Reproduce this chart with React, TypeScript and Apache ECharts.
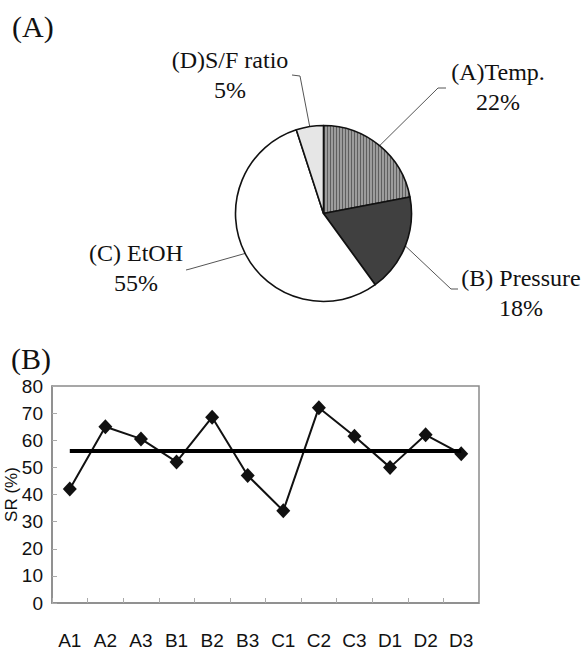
import React, { useEffect, useRef } from "react";
import * as echarts from "echarts";

// ---- Data ----
const pieNames = ["(A)Temp.", "(B) Pressure", "(C) EtOH", "(D)S/F ratio"];
const pieValues = [22, 18, 55, 5];

const categories = ["A1", "A2", "A3", "B1", "B2", "B3", "C1", "C2", "C3", "D1", "D2", "D3"];
const srValues = [42, 65, 60.5, 52, 68.5, 47, 34, 72, 61.5, 50, 62, 55];
const meanSR = 56;

const yMin = 0;
const yMax = 80;
const yInterval = 10;

// ---- Layout / style ----
const pieCenter = [323.5, 213.5];
const pieRadius = 88;
// label text centers and elbow points of leader lines
const labelPlacement = [
  { tx: 498, ty: 87, elbow: [[438, 88], [446, 88]] },
  { tx: 521, ty: 293, elbow: [[451, 289], [458, 289]] },
  { tx: 136, ty: 268, elbow: [[190, 269], [186, 270]] },
  { tx: 230, ty: 75, elbow: [[300, 76], [292, 75]] },
];

const serif = "'Liberation Serif', 'Times New Roman', serif";
const sans = "'Liberation Sans', Arial, sans-serif";

function makeHatch(): any {
  const c = document.createElement("canvas");
  c.width = 3;
  c.height = 4;
  const ctx = c.getContext("2d");
  if (ctx) {
    ctx.fillStyle = "#9c9c9c";
    ctx.fillRect(0, 0, 3, 4);
    ctx.fillStyle = "#5e5e5e";
    ctx.fillRect(0, 0, 1, 4);
  }
  return { image: c, repeat: "repeat" };
}

export default function App() {
  const ref = useRef<HTMLDivElement>(null);

  useEffect(() => {
    if (!ref.current) return;
    const chart = echarts.init(ref.current, null, { renderer: "svg" });
    const pieColors = [makeHatch(), "#404040", "#ffffff", "#e6e6e6"];

    const option: any = {
      animation: false,
      backgroundColor: "#ffffff",
      graphic: [
        {
          type: "text",
          left: 12,
          top: 11,
          style: { text: "(A)", font: `30px ${serif}`, fill: "#111" },
        },
        {
          type: "text",
          left: 11,
          top: 343,
          style: { text: "(B)", font: `30px ${serif}`, fill: "#111" },
        },
      ],
      grid: {
        left: 52,
        right: 105,
        top: 386,
        bottom: 47,
        outerBoundsMode: "none",
        containLabel: false,
        show: true,
        borderColor: "#8a8a8a",
        borderWidth: 1.5,
        backgroundColor: "transparent",
      },
      xAxis: {
        type: "category",
        data: categories,
        boundaryGap: true,
        axisLine: { lineStyle: { color: "#8a8a8a", width: 1.5 } },
        axisTick: { show: true, inside: true, length: 5, lineStyle: { color: "#aaaaaa" } },
        axisLabel: {
          margin: 28,
          fontSize: 19,
          color: "#111",
          fontFamily: sans,
        },
        splitLine: { show: false },
      },
      yAxis: {
        type: "value",
        min: yMin,
        max: yMax,
        interval: yInterval,
        name: "SR (%)",
        nameLocation: "middle",
        nameGap: 32,
        nameMoveOverlap: false,
        nameTextStyle: { fontSize: 17, color: "#111", fontFamily: sans },
        axisLine: { show: true, lineStyle: { color: "#8a8a8a", width: 1.5 } },
        axisTick: { show: true, inside: true, length: 5, lineStyle: { color: "#aaaaaa" } },
        axisLabel: {
          margin: 9,
          fontSize: 19,
          color: "#111",
          fontFamily: sans,
        },
        splitLine: { show: false },
      },
      series: [
        {
          type: "pie",
          center: pieCenter,
          radius: pieRadius,
          startAngle: 90,
          clockwise: true,
          avoidLabelOverlap: false,
          data: pieNames.map((n, i) => ({
            name: n,
            value: pieValues[i],
            itemStyle: { color: pieColors[i] },
          })),
          itemStyle: { borderColor: "#111", borderWidth: 1.6 },
          emphasis: { disabled: true },
          label: {
            show: true,
            position: "outside",
            formatter: "{b}\n{c}%",
            fontFamily: serif,
            fontSize: 24,
            lineHeight: 30,
            color: "#111",
            align: "center",
          },
          labelLine: { show: true, length: 20, length2: 10, lineStyle: { color: "#555", width: 1 } },
          labelLayout: (params: any) => {
            const p = labelPlacement[params.dataIndex];
            const start = params.labelLinePoints ? params.labelLinePoints[0] : p.elbow[0];
            return {
              x: p.tx,
              y: p.ty,
              align: "center",
              verticalAlign: "middle",
              labelLinePoints: [start, p.elbow[0], p.elbow[1]],
            };
          },
        },
        {
          type: "line",
          data: srValues,
          symbol: "diamond",
          symbolSize: [14, 15],
          lineStyle: { color: "#111", width: 2 },
          itemStyle: { color: "#111" },
          z: 3,
          markLine: {
            symbol: "none",
            silent: true,
            label: { show: false },
            lineStyle: { color: "#000", width: 4, type: "solid" },
            data: [
              [
                { xAxis: categories[0], yAxis: meanSR },
                { xAxis: categories[categories.length - 1], yAxis: meanSR },
              ],
            ],
          },
        },
      ],
    };
    chart.setOption(option);
    return () => chart.dispose();
  }, []);

  return <div ref={ref} style={{ width: 584, height: 650, position: "absolute", left: 0, top: 0 }} />;
}
